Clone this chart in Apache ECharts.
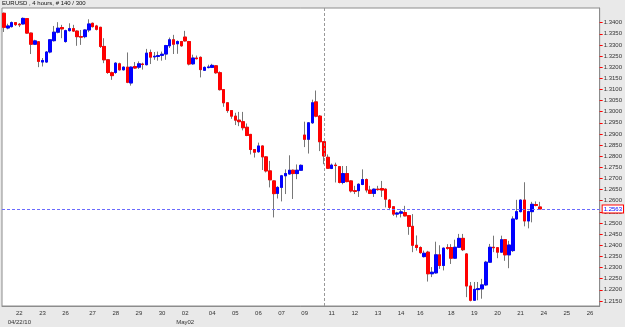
<!DOCTYPE html>
<html>
<head>
<meta charset="utf-8">
<script src="https://cdn.jsdelivr.net/npm/echarts@6/dist/echarts.min.js"></script>
<style>
html, body { margin: 0; padding: 0; background: #e9e9e9; }
#chart { width: 625px; height: 327px; }
</style>
</head>
<body>
<div id="chart"></div>
<script>
// EURUSD 4h bars
const opens = [
  1.3442, 1.3376, 1.3382, 1.3400, 1.3393, 1.3394, 1.3418, 1.3353, 1.3303, 1.3314,
  1.3223, 1.3223, 1.3268, 1.3319, 1.3357, 1.3378, 1.3315, 1.3364, 1.3373, 1.3362,
  1.3337, 1.3337, 1.3367, 1.3397, 1.3385, 1.3379, 1.3293, 1.3233, 1.3175, 1.3176,
  1.3215, 1.3188, 1.3200, 1.3129, 1.3203, 1.3200, 1.3214, 1.3211, 1.3266, 1.3246,
  1.3248, 1.3253, 1.3259, 1.3296, 1.3323, 1.3305, 1.3315, 1.3335, 1.3315, 1.3215,
  1.3241, 1.3244, 1.3186, 1.3198, 1.3199, 1.3206, 1.3175, 1.3099, 1.3040, 1.3005,
  1.2980, 1.2962, 1.2955, 1.2930, 1.2898, 1.2830, 1.2820, 1.2846, 1.2797, 1.2734,
  1.2689, 1.2633, 1.2660, 1.2712, 1.2720, 1.2737, 1.2722, 1.2737, 1.2895, 1.2876,
  1.2950, 1.3044, 1.2980, 1.2865, 1.2795, 1.2745, 1.2760, 1.2753, 1.2682, 1.2722,
  1.2689, 1.2645, 1.2645, 1.2673, 1.2695, 1.2648, 1.2633, 1.2652, 1.2655, 1.2652,
  1.2603, 1.2573, 1.2540, 1.2544, 1.2547, 1.2533, 1.2485, 1.2400, 1.2390, 1.2349,
  1.2369, 1.2272, 1.2276, 1.2357, 1.2309, 1.2390, 1.2390, 1.2342, 1.2391, 1.2431,
  1.2361, 1.2217, 1.2153, 1.2201, 1.2204, 1.2222, 1.2324, 1.2391, 1.2389, 1.2369,
  1.2425, 1.2357, 1.2376, 1.2518, 1.2551, 1.2603, 1.2509, 1.2551, 1.2583, 1.2572
]
const highs = [
  1.3445, 1.3395, 1.3405, 1.3402, 1.3398, 1.3423, 1.3420, 1.3355, 1.3323, 1.3316,
  1.3241, 1.3272, 1.3326, 1.3385, 1.3402, 1.3390, 1.3368, 1.3397, 1.3390, 1.3365,
  1.3367, 1.3370, 1.3415, 1.3400, 1.3390, 1.3381, 1.3330, 1.3235, 1.3180, 1.3222,
  1.3220, 1.3203, 1.3266, 1.3203, 1.3223, 1.3226, 1.3220, 1.3282, 1.3279, 1.3268,
  1.3270, 1.3270, 1.3300, 1.3333, 1.3345, 1.3320, 1.3318, 1.3363, 1.3318, 1.3256,
  1.3252, 1.3248, 1.3203, 1.3211, 1.3215, 1.3209, 1.3181, 1.3100, 1.3042, 1.3007,
  1.2995, 1.2999, 1.2999, 1.2947, 1.2900, 1.2832, 1.2861, 1.2848, 1.2800, 1.2779,
  1.2692, 1.2665, 1.2716, 1.2741, 1.2804, 1.2740, 1.2763, 1.2763, 1.2955, 1.2953,
  1.3054, 1.3095, 1.2985, 1.2868, 1.2808, 1.2767, 1.2771, 1.2755, 1.2756, 1.2756,
  1.2692, 1.2667, 1.2678, 1.2741, 1.2700, 1.2667, 1.2655, 1.2667, 1.2689, 1.2655,
  1.2608, 1.2575, 1.2550, 1.2561, 1.2577, 1.2535, 1.2540, 1.2444, 1.2395, 1.2376,
  1.2375, 1.2302, 1.2416, 1.2400, 1.2390, 1.2405, 1.2405, 1.2425, 1.2451, 1.2451,
  1.2365, 1.2235, 1.2235, 1.2235, 1.2249, 1.2330, 1.2406, 1.2443, 1.2392, 1.2443,
  1.2428, 1.2420, 1.2530, 1.2604, 1.2606, 1.2683, 1.2555, 1.2595, 1.2597, 1.2595
]
const lows = [
  1.3358, 1.3370, 1.3378, 1.3385, 1.3380, 1.3392, 1.3350, 1.3259, 1.3300, 1.3200,
  1.3203, 1.3220, 1.3262, 1.3315, 1.3352, 1.3330, 1.3310, 1.3360, 1.3358, 1.3296,
  1.3300, 1.3330, 1.3357, 1.3378, 1.3365, 1.3286, 1.3218, 1.3170, 1.3143, 1.3170,
  1.3185, 1.3185, 1.3128, 1.3117, 1.3193, 1.3192, 1.3189, 1.3208, 1.3214, 1.3233,
  1.3229, 1.3229, 1.3233, 1.3286, 1.3259, 1.3260, 1.3292, 1.3315, 1.3208, 1.3211,
  1.3235, 1.3154, 1.3183, 1.3195, 1.3196, 1.3170, 1.3095, 1.3022, 1.2995, 1.2968,
  1.2940, 1.2935, 1.2916, 1.2890, 1.2808, 1.2794, 1.2816, 1.2738, 1.2727, 1.2660,
  1.2525, 1.2610, 1.2597, 1.2630, 1.2718, 1.2608, 1.2697, 1.2735, 1.2841, 1.2812,
  1.2945, 1.2975, 1.2823, 1.2764, 1.2744, 1.2742, 1.2682, 1.2678, 1.2674, 1.2683,
  1.2637, 1.2630, 1.2617, 1.2670, 1.2637, 1.2630, 1.2617, 1.2645, 1.2617, 1.2570,
  1.2558, 1.2532, 1.2525, 1.2525, 1.2530, 1.2447, 1.2369, 1.2376, 1.2362, 1.2345,
  1.2237, 1.2257, 1.2272, 1.2294, 1.2287, 1.2380, 1.2316, 1.2340, 1.2388, 1.2374,
  1.2167, 1.2148, 1.2150, 1.2153, 1.2160, 1.2218, 1.2322, 1.2369, 1.2342, 1.2366,
  1.2330, 1.2297, 1.2370, 1.2515, 1.2548, 1.2485, 1.2476, 1.2503, 1.2575, 1.2560
]
const closes = [
  1.3379, 1.3385, 1.3400, 1.3391, 1.3390, 1.3419, 1.3353, 1.3303, 1.3318, 1.3226,
  1.3230, 1.3268, 1.3323, 1.3357, 1.3375, 1.3372, 1.3364, 1.3373, 1.3362, 1.3337,
  1.3335, 1.3367, 1.3394, 1.3382, 1.3370, 1.3293, 1.3233, 1.3176, 1.3162, 1.3218,
  1.3188, 1.3200, 1.3132, 1.3200, 1.3196, 1.3215, 1.3212, 1.3263, 1.3245, 1.3249,
  1.3252, 1.3258, 1.3297, 1.3323, 1.3303, 1.3315, 1.3296, 1.3318, 1.3214, 1.3241,
  1.3238, 1.3189, 1.3199, 1.3201, 1.3208, 1.3175, 1.3099, 1.3040, 1.3005, 1.2980,
  1.2962, 1.2955, 1.2928, 1.2893, 1.2830, 1.2818, 1.2846, 1.2797, 1.2734, 1.2694,
  1.2632, 1.2660, 1.2712, 1.2722, 1.2737, 1.2722, 1.2737, 1.2759, 1.2876, 1.2950,
  1.3040, 1.2980, 1.2865, 1.2801, 1.2746, 1.2760, 1.2758, 1.2682, 1.2722, 1.2686,
  1.2644, 1.2642, 1.2674, 1.2695, 1.2648, 1.2633, 1.2652, 1.2650, 1.2648, 1.2607,
  1.2570, 1.2540, 1.2545, 1.2550, 1.2532, 1.2485, 1.2400, 1.2390, 1.2367, 1.2364,
  1.2272, 1.2279, 1.2357, 1.2309, 1.2387, 1.2386, 1.2342, 1.2391, 1.2431, 1.2380,
  1.2217, 1.2153, 1.2202, 1.2205, 1.2222, 1.2324, 1.2391, 1.2389, 1.2369, 1.2425,
  1.2357, 1.2401, 1.2518, 1.2551, 1.2603, 1.2509, 1.2551, 1.2584, 1.2579, 1.2563
]

// date labels and the bar each one sits on
const dayLabels = ['22', '23', '26', '27', '28', '29', '30', '02', '04', '05', '06', '07', '09',
  '11', '12', '13', '14', '16', '18', '19', '20', '21', '24', '25', '26']
const dayBars = [4, 10, 16, 23, 29, 35, 41, 47, 54, 60, 66, 72, 78,
  85, 91, 97, 103, 108, 116, 122, 128, 134, 140, 146, 152]
const subLabels = ['04/22/10', '', '', '', '', '', '', 'May02']

const yTicks = [1.2150, 1.2200, 1.2250, 1.2300, 1.2350, 1.2400, 1.2450, 1.2500, 1.2550, 1.2600,
  1.2650, 1.2700, 1.2750, 1.2800, 1.2850, 1.2900, 1.2950, 1.3000, 1.3050, 1.3100,
  1.3150, 1.3200, 1.3250, 1.3300, 1.3350, 1.3400]

const slotCount = 155
const lastPrice = closes[closes.length - 1]
const markerBar = 83

const categories = []
for (let k = 0; k < slotCount; k++) categories.push('')
dayBars.forEach((b, j) => {
  categories[b] = subLabels[j] ? dayLabels[j] + '\n' + subLabels[j] : dayLabels[j]
})

const fullData = opens.map((o, i) => [o, closes[i], lows[i], highs[i]])
const bodyData = opens.map((o, i) => [o, closes[i], Math.min(o, closes[i]), Math.max(o, closes[i])])

const chart = echarts.init(document.getElementById('chart'))
const font = 'Liberation Sans, Arial, sans-serif'

chart.setOption({
  animation: false,
  backgroundColor: '#e9e9e9',
  title: {
    text: 'EURUSD , 4 hours, # 140 / 300',
    left: 2,
    top: 0,
    padding: 0,
    textStyle: { fontSize: 6, fontWeight: 'normal', color: '#111', fontFamily: font }
  },
  grid: {
    left: 2,
    right: 23,
    top: 8,
    bottom: 20,
    show: true,
    backgroundColor: '#ffffff',
    borderColor: '#8c8c8c',
    borderWidth: 1
  },
  xAxis: {
    type: 'category',
    data: categories,
    boundaryGap: true,
    axisLine: { lineStyle: { color: '#8c8c8c' } },
    axisTick: {
      alignWithLabel: true,
      length: 3,
      interval: (i, v) => v !== '',
      lineStyle: { color: '#ff0000' }
    },
    axisLabel: {
      interval: (i, v) => v !== '',
      fontSize: 6,
      lineHeight: 9,
      margin: 3,
      color: '#333',
      fontFamily: font
    },
    splitLine: { show: false }
  },
  yAxis: {
    type: 'value',
    position: 'right',
    min: 1.21272,
    max: 1.34657,
    axisLine: { show: true, lineStyle: { color: '#8c8c8c' } },
    axisTick: {
      show: true,
      length: 3,
      customValues: yTicks,
      lineStyle: { color: '#ff0000' }
    },
    axisLabel: {
      customValues: yTicks,
      formatter: v => v.toFixed(4),
      fontSize: 6,
      margin: 4,
      color: '#333',
      fontFamily: font
    },
    splitLine: { show: false }
  },
  series: [
    {
      // wicks
      type: 'candlestick',
      data: fullData,
      barWidth: 3,
      itemStyle: {
        color: '#777',
        color0: '#777',
        borderColor: '#777',
        borderColor0: '#777',
        borderWidth: 1
      },
      markLine: {
        silent: true,
        symbol: ['none', 'none'],
        lineStyle: { color: '#999999', type: [3, 2], width: 1 },
        label: { show: false },
        data: [{ xAxis: markerBar }]
      }
    },
    {
      // bodies
      type: 'candlestick',
      data: bodyData,
      barWidth: 3,
      itemStyle: {
        color: '#0000ff',
        color0: '#ff0000',
        borderColor: '#0000ff',
        borderColor0: '#ff0000',
        borderWidth: 1
      },
      markLine: {
        silent: true,
        precision: 4,
        symbol: ['none', 'none'],
        data: [{
          yAxis: lastPrice,
          lineStyle: { color: '#6a6aff', type: [3, 2], width: 1, opacity: 1 },
          label: {
            show: true,
            position: 'end',
            distance: 3,
            formatter: () => lastPrice.toFixed(4),
            fontSize: 6,
            color: '#0000ff',
            backgroundColor: '#ffffff',
            borderColor: '#ff0000',
            borderWidth: 1,
            padding: [1, 1, 0, 1],
            fontFamily: font
          }
        }]
      }
    }
  ]
})
</script>
</body>
</html>
